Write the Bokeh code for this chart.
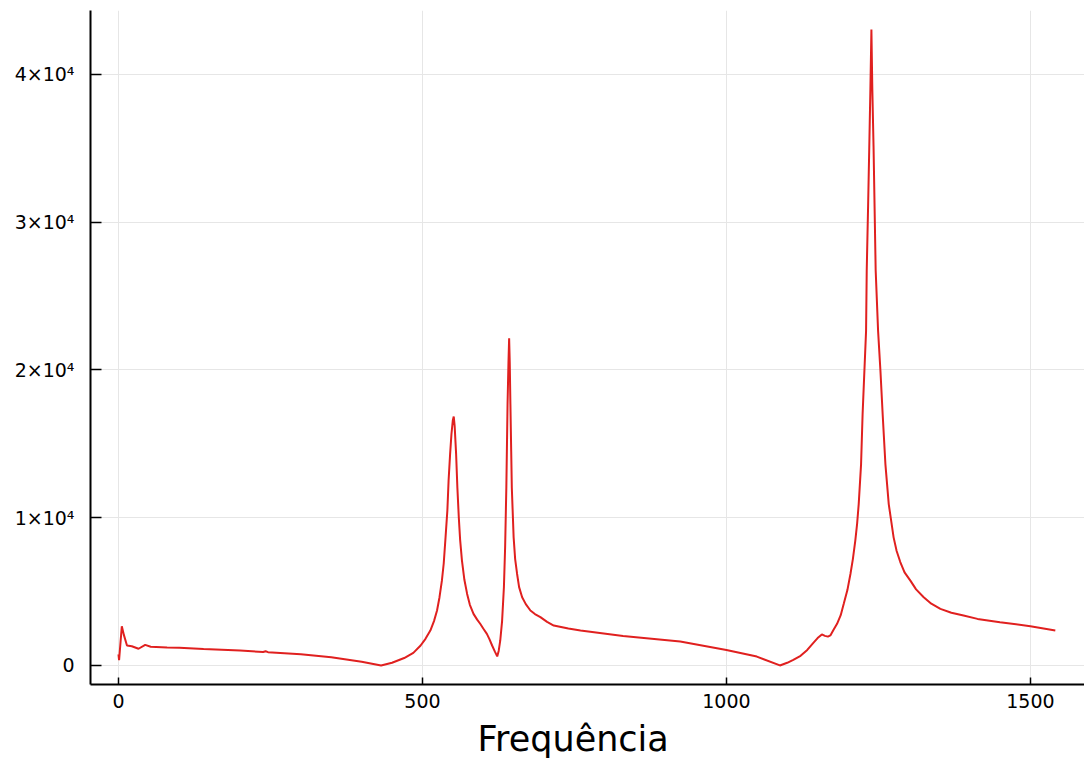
from bokeh.plotting import figure
from bokeh.models import FixedTicker, Range1d, Title
from bokeh.embed import file_html
from bokeh.resources import INLINE

# Spectrum: frequency vs. amplitude
freq = [0, 1, 5.5, 9, 14, 22, 33, 44, 53, 80, 100, 140, 200, 238, 242, 246,
        300, 350, 400, 432, 450, 470, 485, 497, 505, 513, 519, 524, 528, 532,
        535, 538, 541, 543, 545.5, 547.7, 550, 551.5, 553, 555.4, 557.5,
        559.8, 562, 565, 569, 573.5, 578, 584, 590, 595, 600, 606, 610,
        614.6, 619, 623, 625.5, 628, 631, 634, 636, 638, 640, 641.5, 642.6,
        643.6, 644.7, 646, 647, 650, 652.5, 655.7, 659, 664, 670, 677.6, 685,
        694, 705, 716, 740, 760, 830, 924, 1000, 1050, 1088, 1100, 1110, 1122,
        1133, 1143, 1150, 1157, 1162, 1167, 1171, 1176, 1182, 1188, 1193,
        1199, 1204, 1208, 1212, 1215, 1217.6, 1221.5, 1224, 1227, 1229.7,
        1230.8, 1233, 1235, 1236.8, 1238.5, 1240, 1242, 1245.5, 1249.5,
        1253.3, 1257, 1261.5, 1267, 1275, 1280, 1286, 1293, 1302.6, 1312,
        1324.5, 1337, 1352, 1370, 1390, 1413, 1450, 1500, 1541]
amplitude = [750, 350, 2650, 2050, 1350, 1300, 1130, 1390, 1270, 1220, 1200,
             1120, 1010, 910, 960, 900, 760, 560, 250, 0, 180, 500, 850, 1350,
             1800, 2360, 3000, 3720, 4600, 5740, 6900, 8670, 10500, 12500,
             14300, 15650, 16600, 16850, 16200, 14300, 12000, 10020, 8500,
             7100, 5800, 4840, 4100, 3490, 3100, 2820, 2500, 2140, 1800, 1350,
             950, 610, 1000, 1690, 3000, 5290, 8000, 12050, 17680, 20500,
             22150, 20500, 17680, 14500, 12050, 8670, 7200, 6190, 5300, 4620,
             4150, 3720, 3480, 3270, 2950, 2700, 2500, 2370, 2000, 1620, 1050,
             600, 0, 180, 380, 650, 1050, 1530, 1850, 2100, 2000, 1950, 2030,
             2400, 2815, 3400, 4170, 5100, 6190, 7200, 8450, 9600, 10920,
             13630, 17000, 19980, 22630, 26750, 31000, 35150, 39000, 43050,
             39000, 35150, 26750, 22630, 19980, 17000, 13630, 10920, 8670,
             7750, 7000, 6300, 5740, 5150, 4620, 4180, 3830, 3570, 3380, 3150,
             2930, 2650, 2370]

x_ticks = [0, 500, 1000, 1500]
y_ticks = [0, 10000, 20000, 30000, 40000]
y_tick_labels = ["0", "1×10⁴", "2×10⁴", "3×10⁴", "4×10⁴"]
x_label = "Frequência"

FONT = "DejaVu Sans"

p = figure(width=1084, height=771, output_backend="svg", toolbar_location=None,
           x_range=Range1d(-46, 1589), y_range=Range1d(-1290, 44330),
           min_border_left=90, min_border_right=0, min_border_top=10,
           min_border_bottom=87)

p.outline_line_color = None
p.background_fill_color = "white"
p.border_fill_color = "white"

p.line(freq, amplitude, line_color="#e0201f", line_width=2)

p.xaxis.ticker = FixedTicker(ticks=x_ticks)
p.yaxis.ticker = FixedTicker(ticks=y_ticks)
p.yaxis.major_label_overrides = {t: s for t, s in zip(y_ticks, y_tick_labels)}

for ax in (p.xaxis, p.yaxis):
    ax.axis_line_color = "black"
    ax.axis_line_width = 2
    ax.major_tick_line_color = "black"
    ax.major_tick_line_width = 1.5
    ax.major_tick_out = 0
    ax.minor_tick_line_color = None
    ax.major_label_text_font = FONT
    ax.major_label_text_font_size = "19px"
    ax.major_label_text_color = "black"

p.yaxis.major_tick_in = 11
p.xaxis.major_tick_in = 7
p.yaxis.major_label_standoff = 16
p.xaxis.major_label_standoff = 9

# x-axis caption, placed slightly left of the frame centre
p.add_layout(Title(text=x_label, align="left", offset=387,
                   text_font=FONT, text_font_size="35px",
                   text_font_style="normal", text_color="black",
                   standoff=12), "below")

p.grid.grid_line_color = "#e6e6e6"
p.grid.grid_line_width = 1

open("out.html", "w").write(file_html(p, INLINE))
